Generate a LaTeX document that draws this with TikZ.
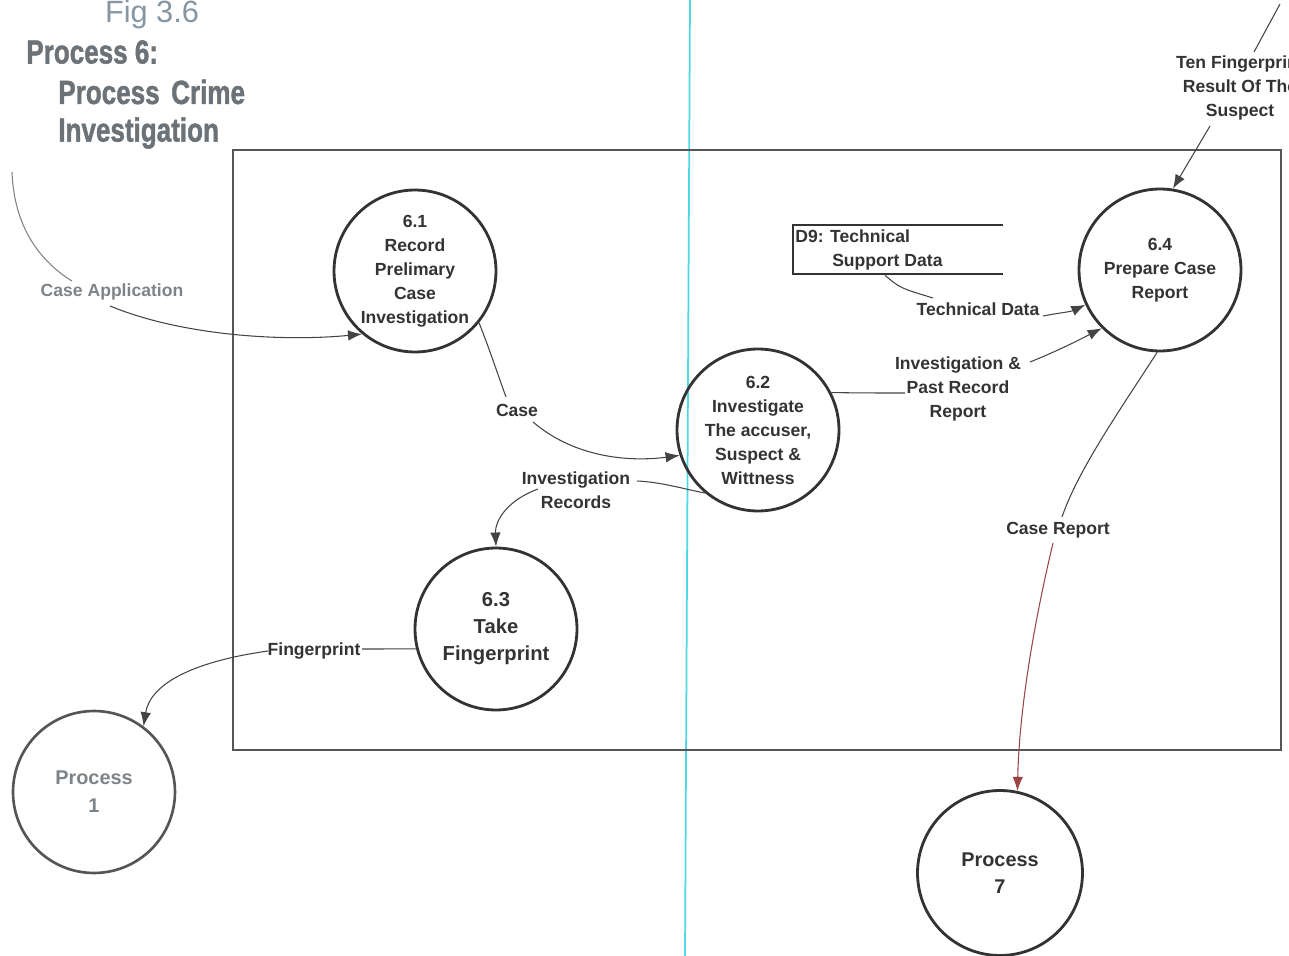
\documentclass[tikz,border=0pt]{standalone}
\usepackage{fontspec}
\setmainfont{Liberation Sans}
\newfontfamily\headfont{Liberation Sans}[BoldFeatures={FakeBold=1.6}]
\usetikzlibrary{arrows.meta}

\definecolor{ink}{HTML}{333333}
\definecolor{lineink}{HTML}{444444}
\definecolor{framegray}{HTML}{555555}
\definecolor{figgray}{HTML}{8696A3}
\definecolor{headgray}{HTML}{6C7378}
\definecolor{softgray}{HTML}{7E8388}
\definecolor{guide}{HTML}{4FD8E2}
\definecolor{redflow}{HTML}{9A4545}

\tikzset{
  proc/.style={circle, draw=ink, line width=1.6pt, minimum size=3.24cm,
    inner sep=0pt, align=center, text=ink,
    font=\fontsize{10}{13.66}\selectfont\bfseries},
  bigproc/.style={proc, font=\fontsize{11.5}{15.4}\selectfont\bfseries},
  flow/.style={draw=lineink, line width=0.6pt},
  arr/.style={-{Latex[length=8pt,width=6pt]}},
  lbl/.style={font=\fontsize{10}{13.66}\selectfont\bfseries, text=ink,
    align=center, inner sep=1pt},
  head/.style={font=\headfont\fontsize{19}{22}\selectfont\bfseries, text=headgray,
    anchor=west, inner sep=0pt},
}

\begin{document}
\begin{tikzpicture}[x=0.02cm, y=-0.02cm]
\useasboundingbox (0,0) rectangle (1289,956);
\clip (0,0) rectangle (1289,956);

% page guide
\draw[guide, line width=1pt] (690,0) -- (685,956);

% titles
\node[text=figgray, font=\fontsize{17.5}{20}\selectfont, inner sep=0pt] (fig) at (152,15) {Fig 3.6};
\node[head] (h1) at (26,52) {\scalebox{0.78}[1]{Process 6:}};
\node[head] (h2) at (58,92) {\scalebox{0.78}[1]{Process\, Crime}};
\node[head] (h3) at (58,133) {\scalebox{0.78}[1]{Investigation}};

% process boundary
\draw[framegray, line width=0.6pt] (233,150) rectangle (1281,750);

% processes
\node[proc] (p61) at (415,271) {6.1\\Record\\Prelimary\\Case\\Investigation};
\node[proc] (p62) at (758,430) {6.2\\Investigate\\The accuser,\\Suspect \&\\Wittness};
\node[bigproc] (p63) at (496,629) {6.3\\Take\\Fingerprint};
\node[proc] (p64) at (1160,270) {6.4\\Prepare Case\\Report};
\node[proc, draw=framegray, line width=1.5pt, text=softgray,
      font=\fontsize{11.3}{16}\selectfont\bfseries] (p1) at (94,792) {Process\\1};
\node[proc, minimum size=3.3cm, font=\fontsize{11.3}{15.4}\selectfont\bfseries] (p7) at (1000,873) {Process\\7};

% data store D9
\node[minimum width=4.2cm, minimum height=0.98cm, inner sep=0pt] (d9) at (898,249.5) {};
\draw[ink, line width=1.2pt] (d9.north east) -- (d9.north west) -- (d9.south west) -- (d9.south east);
\node[lbl, anchor=west, align=left, inner sep=0pt] (d9t) at (795,250) {D9: Technical\\\hspace*{21pt}Support Data};

% flow labels
\node[lbl, text=softgray] (ca) at (112,292) {Case Application};
\node[lbl] (case) at (517,410) {Case};
\node[lbl] (ir) at (576,490) {Investigation\\Records};
\node[lbl] (fp) at (314,651) {Fingerprint};
\node[lbl] (ipr) at (958,389) {Investigation \&\\Past Record\\Report};
\node[lbl] (td) at (978,309) {Technical Data};
\node[lbl] (tf) at (1240,88) {Ten Fingerprint\\Result Of The\\Suspect};
\node[lbl] (cr) at (1058,530) {Case Report};

% bend points beside the labels
\coordinate (caA) at (12,172);
\coordinate (caB) at (72,281);
\coordinate (caC) at (110,306);
\coordinate (caseA) at (506,397);
\coordinate (caseB) at (533,422);
\coordinate (irA) at (637,481);
\coordinate (irB) at (538,489);
\coordinate (fpA) at (362,649);
\coordinate (fpB) at (268,651);
\coordinate (iprA) at (905,393);
\coordinate (iprB) at (1030,362);
\coordinate (tdA) at (933,298);
\coordinate (tdB) at (1043,316);
\coordinate (tfA) at (1280,4);
\coordinate (tfB) at (1254,52);
\coordinate (tfC) at (1210,126);
\coordinate (crA) at (1062,517);
\coordinate (crB) at (1053,543);

% data flows
\draw[flow, draw=softgray] (caA) .. controls (14,225) and (38,260) .. (caB);
\draw[flow, arr] (caC) .. controls (180,335) and (280,342) .. (p61.230);

\draw[flow] (p61.-39) .. controls (488,345) and (498,375) .. (caseA);
\draw[flow, arr] (caseB) .. controls (575,458) and (630,462) .. (p62.198);

\draw[flow] (p62.230) .. controls (680,488) and (660,482) .. (irA);
\draw[flow, arr] (irB) .. controls (508,500) and (495,520) .. (p63.north);

\draw[flow] (p63.194) -- (fpA);
\draw[flow, arr] (fpB) .. controls (190,662) and (150,685) .. (p1.53);

\draw[flow] (p62.27) .. controls (870,393) .. (iprA);
\draw[flow, arr] (iprB) .. controls (1055,352) and (1075,342) .. (p64.225);

\draw[flow] (d9.south) ++(-13,1) .. controls (900,288) .. (tdA);
\draw[flow, arr] (tdB) .. controls (1058,313) and (1070,312) .. (p64.205);

\draw[flow] (tfA) -- (tfB);
\draw[flow, arr] (tfC) -- (p64.81);

\draw[flow] (p64.268) .. controls (1120,410) and (1078,470) .. (crA);
\draw[flow, draw=redflow, arr] (crB) .. controls (1030,640) and (1019,720) .. (p7.78);
\end{tikzpicture}
\end{document}
